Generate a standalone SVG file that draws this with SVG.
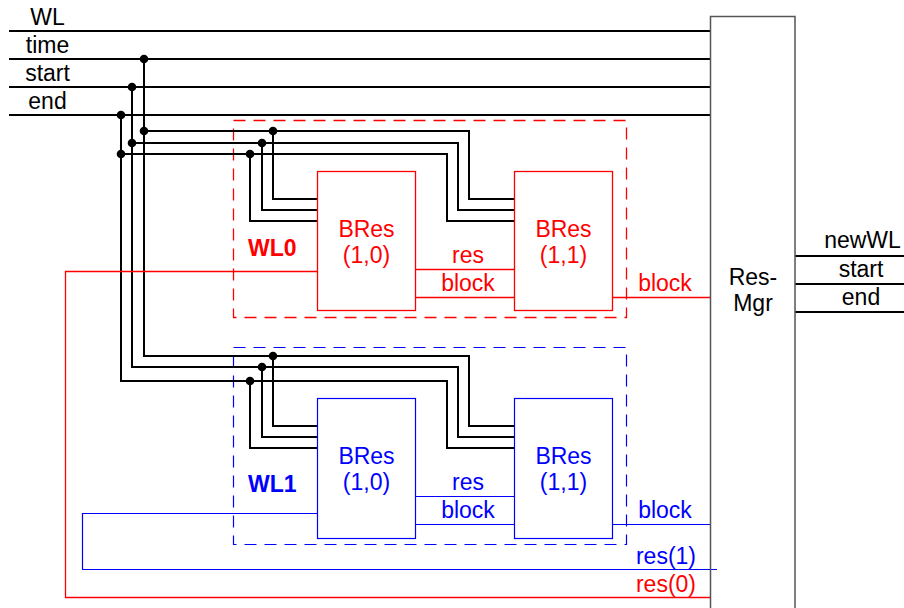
<svg xmlns="http://www.w3.org/2000/svg" width="904" height="608" viewBox="0 0 904 608">
<style>
text{font-family:"Liberation Sans",Arial,sans-serif;font-size:23px}
.k{fill:#000}
.r{fill:#ff0000}
.b{fill:#0000ff}
.m{text-anchor:middle}
.e{text-anchor:end}
.bold{font-weight:bold}
.bus{fill:none;stroke:#000;stroke-width:2}
.rl{fill:none;stroke:#ff0000;stroke-width:1.3}
.bl{fill:none;stroke:#0000ff;stroke-width:1.2}
.rbox{fill:#fff;stroke:#ff0000;stroke-width:1.3}
.bbox{fill:#fff;stroke:#0000ff;stroke-width:1.2}
.rdash{fill:none;stroke:#ff0000;stroke-width:1.3;stroke-dasharray:12 8}
.bdash{fill:none;stroke:#0000ff;stroke-width:1.2;stroke-dasharray:12 8}
.dot{fill:#000}
</style>
<rect width="904" height="608" fill="#fff"/>

<g id="WL0">
<rect class="rdash" x="233.5" y="120.5" width="393" height="197"/>
<text class="r bold" x="248" y="256">WL0</text>
</g>
<g id="WL1">
<rect class="bdash" x="233.5" y="347.5" width="393" height="197"/>
<text class="b bold" x="248" y="492">WL1</text>
</g>

<g id="connectors">
<path class="bus" d="M9,31H710M9,59H710M9,87H710M9,115H710"/>
<path class="bus" d="M144,59V356H469V426H514M144,131H469V199H514M273,131V199H317M273,356V426H317"/>
<path class="bus" d="M132,87V367H458V437H514M132,143H458V210H514M262,143V210H317M262,367V437H317"/>
<path class="bus" d="M121,115V381H447V448H514M121,154H447V221H514M250,154V221H317M250,381V448H317"/>
<path class="bus" d="M795,256H904M795,284H904M795,312H904"/>
<path class="rl" d="M317,271.5H65.5V597.5H710M416,269.5H514M416,297.5H514M613,297.5H710"/>
<path class="bl" d="M317,513.5H82.5V569.5H717M416,496.5H514M416,524.5H514M613,524.5H710"/>
<g class="dot">
<circle cx="144" cy="59" r="4.3"/><circle cx="132" cy="87" r="4.3"/><circle cx="121" cy="115" r="4.3"/>
<circle cx="144" cy="131" r="4.3"/><circle cx="132" cy="143" r="4.3"/><circle cx="121" cy="154" r="4.3"/>
<circle cx="273" cy="131" r="4.3"/><circle cx="262" cy="143" r="4.3"/><circle cx="250" cy="154" r="4.3"/>
<circle cx="273" cy="356" r="4.3"/><circle cx="262" cy="367" r="4.3"/><circle cx="250" cy="381" r="4.3"/>
</g>
</g>

<g id="labels">
<text class="k m" x="47.5" y="25">WL</text>
<text class="k m" x="47.5" y="53">time</text>
<text class="k m" x="47.5" y="81">start</text>
<text class="k m" x="47.5" y="109">end</text>
<text class="k m" x="862.5" y="248">newWL</text>
<text class="k m" x="861" y="277">start</text>
<text class="k m" x="861" y="305">end</text>
<text class="r m" x="468" y="263">res</text>
<text class="r m" x="468" y="291">block</text>
<text class="r m" x="665" y="291">block</text>
<text class="b m" x="468" y="490">res</text>
<text class="b m" x="468" y="518">block</text>
<text class="b m" x="665" y="518">block</text>
<text class="b e" x="696" y="564">res(1)</text>
<text class="r e" x="696" y="592">res(0)</text>
</g>

<g id="BRes_0_10">
<rect class="rbox" x="317.5" y="171.5" width="98" height="139"/>
<text class="r m" x="366.5" y="237">BRes</text>
<text class="r m" x="366.5" y="263">(1,0)</text>
</g>
<g id="BRes_0_11">
<rect class="rbox" x="514.5" y="171.5" width="98" height="139"/>
<text class="r m" x="563.5" y="237">BRes</text>
<text class="r m" x="563.5" y="263">(1,1)</text>
</g>
<g id="BRes_1_10">
<rect class="bbox" x="317.5" y="398.5" width="98" height="140"/>
<text class="b m" x="366.5" y="464">BRes</text>
<text class="b m" x="366.5" y="490">(1,0)</text>
</g>
<g id="BRes_1_11">
<rect class="bbox" x="514.5" y="398.5" width="98" height="140"/>
<text class="b m" x="563.5" y="464">BRes</text>
<text class="b m" x="563.5" y="490">(1,1)</text>
</g>

<g id="ResMgr">
<rect x="710.5" y="16.5" width="84.5" height="600" fill="none" stroke="#555" stroke-width="1.5"/>
<text class="k m" x="753" y="285">Res-</text>
<text class="k m" x="753" y="311">Mgr</text>
</g>
</svg>
